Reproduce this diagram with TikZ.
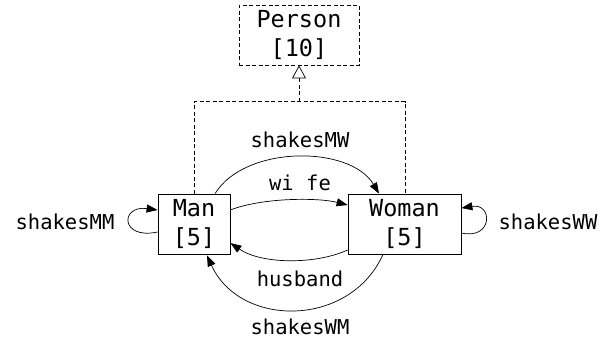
\documentclass[tikz,border=0pt]{standalone}
\usepackage{fontspec}
\setmonofont{DejaVu Sans Mono}
\usetikzlibrary{arrows.meta,calc}
\begin{document}
\begin{tikzpicture}[x=1pt,y=1pt,
  cls/.style={draw, line width=0.8pt, inner sep=0pt, align=center,
    font=\ttfamily\fontsize{23.5}{29}\selectfont},
  elab/.style={font=\ttfamily\fontsize{20.5}{24}\selectfont, inner sep=0pt},
  rel/.style={line width=0.7pt, -{Triangle[length=11pt,width=8pt]}},
  gen/.style={line width=0.7pt, dashed, dash pattern=on 4pt off 2.5pt}]
\useasboundingbox (0,0) rectangle (603,-343);
\node[cls, dashed, dash pattern=on 4pt off 2.5pt, minimum width=120pt, minimum height=60pt] (person) at (299,-35) {Person\\{}[10]};
\node[cls, minimum width=72pt, minimum height=60pt] (man) at (194,-224) {Man\\{}[5]};
\node[cls, minimum width=113pt, minimum height=60pt] (woman) at (404.5,-224) {Woman\\{}[5]};
% generalization
\coordinate (hl) at (194,-101.7);
\coordinate (hr) at (405,-101.7);
\coordinate (hm) at (299,-101.7);
\draw[gen] (man.north) -- (hl) -- (hr) -- (woman.north -| hr);
\draw[gen, -{Triangle[open,length=13pt,width=14pt,line width=0.7pt,sep=0pt]}] (hm) -- (person.south);
% wife
\draw[rel] ($(man.east)+(0,14)$) .. controls (262,-197.5) and (318,-197.5) .. ($(woman.west)+(0,19)$);
\node[elab] (lwife) at (300,-183) {wi fe};
% husband
\draw[rel] ($(woman.west)+(0,-26)$) .. controls (316,-264.5) and (262,-264.5) .. ($(man.east)+(0,-19)$);
\node[elab] (lhus) at (300,-279) {husband};
% shakesMW
\draw[rel] ($(man.north)+(21,0)$) .. controls (245,-145) and (350,-145) .. ($(woman.north)+(-25.5,0)$);
\node[elab] (lmw) at (300,-140) {shakesMW};
% shakesWM
\draw[rel] ($(woman.south)+(-21.5,0)$) .. controls (350,-328) and (240,-328) .. ($(man.south)+(13,-1)$);
\node[elab] (lwm) at (300,-327) {shakesWM};
% self loops
\draw[rel] ($(man.west)+(0,-8)$) .. controls (120,-240) and (120,-205) .. ($(man.west)+(0,14)$);
\node[elab] (lmm) at (65,-222) {shakesMM};
\draw[rel] ($(woman.east)+(0,-9)$) .. controls (493,-240) and (493,-203) .. ($(woman.east)+(0,16)$);
\node[elab] (lww) at (548,-222) {shakesWW};
\end{tikzpicture}
\end{document}
